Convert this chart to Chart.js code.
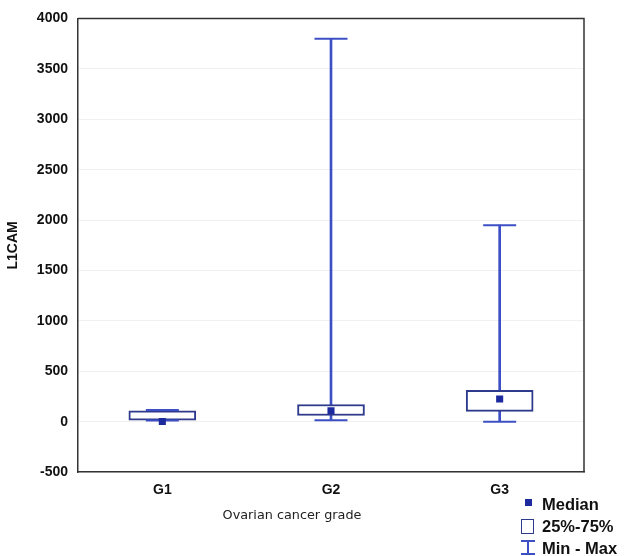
<!DOCTYPE html>
<html>
<head>
<meta charset="utf-8">
<script src="https://cdn.jsdelivr.net/npm/chart.js@4"></script>
<style>
  html, body { margin: 0; padding: 0; background: #fff; }
  #wrap { position: relative; width: 624px; height: 556px; }
  .lg { position: absolute; font: bold 16.5px "Liberation Sans", Arial, sans-serif; color: #111; line-height: 18px; white-space: nowrap; }
  .sw { position: absolute; }
</style>
</head>
<body>
<div id="wrap">
  <canvas id="chart1" width="624" height="556"></canvas>
  <!-- legend -->
  <div class="sw" style="left:525px;top:499px;width:7px;height:7px;background:#1c2a9e;"></div>
  <div class="lg" style="left:542px;top:495px;">Median</div>
  <div class="sw" style="left:521px;top:519px;width:11px;height:13px;border:1.5px solid #2e3a8c;"></div>
  <div class="lg" style="left:542px;top:517px;">25%-75%</div>
  <div class="sw" style="left:521px;top:540px;width:14px;height:1.5px;background:#3d4fc4;"></div>
  <div class="sw" style="left:527px;top:540px;width:1.5px;height:14px;background:#3d4fc4;"></div>
  <div class="sw" style="left:521px;top:553px;width:14px;height:1.5px;background:#3d4fc4;"></div>
  <div class="lg" style="left:542px;top:539px;">Min - Max</div>
</div>
<script>
var categories = ['G1', 'G2', 'G3'];
var minVals = [14, 15, 0];
var q1Vals = [16, 63, 103];
var medianVals = [4, 109, 227];
var q3Vals = [110, 172, 313];
var maxVals = [118, 3800, 1950];

var boxColor = '#2e3a8c';
var whiskerColor = '#3d4fc4';
var medianColor = '#1c2a9e';

var whiskerData = categories.map(function (c, i) { return [minVals[i], maxVals[i]]; });
var boxData = categories.map(function (c, i) { return [q1Vals[i], q3Vals[i]]; });

// top and right frame lines
var framePlugin = {
    id: 'frame',
    afterDatasetsDraw: function (chart) {
        var a = chart.chartArea, ctx = chart.ctx;
        ctx.save();
        ctx.strokeStyle = '#333';
        ctx.lineWidth = 1.5;
        ctx.beginPath();
        ctx.moveTo(a.left, a.top);
        ctx.lineTo(a.right, a.top);
        ctx.lineTo(a.right, a.bottom);
        ctx.stroke();
        ctx.restore();
    }
};

var dataChart1 = {
    labels: categories,
    datasets: [
        {
            type: 'bar',
            label: 'Min - Max',
            data: whiskerData,
            backgroundColor: whiskerColor,
            barThickness: 2,
            grouped: false,
            order: 3
        },
        {
            type: 'bar',
            label: '25%-75%',
            data: boxData,
            backgroundColor: '#ffffff',
            borderColor: boxColor,
            borderWidth: 2,
            borderSkipped: false,
            barThickness: 67,
            grouped: false,
            order: 2
        },
        {
            type: 'line',
            label: 'Max',
            data: maxVals,
            showLine: false,
            pointStyle: 'line',
            pointRadius: 16.5,
            pointBorderWidth: 2,
            pointBorderColor: whiskerColor,
            order: 1
        },
        {
            type: 'line',
            label: 'Min',
            data: minVals,
            showLine: false,
            pointStyle: 'line',
            pointRadius: 16.5,
            pointBorderWidth: 2,
            pointBorderColor: whiskerColor,
            order: 1
        },
        {
            type: 'line',
            label: 'Median',
            data: medianVals,
            showLine: false,
            pointStyle: 'rect',
            pointRadius: 5,
            pointBorderWidth: 0,
            pointBackgroundColor: medianColor,
            order: 0
        }
    ]
};

var configChart1 = {
    type: 'bar',
    data: dataChart1,
    options: {
        responsive: false,
        animation: false,
        layout: {
            padding: { top: 16, right: 40, left: 0, bottom: 0 }
        },
        scales: {
            x: {
                offset: true,
                grid: { display: false, drawTicks: false },
                border: { display: true, color: '#333', width: 1.5 },
                ticks: {
                    padding: 10,
                    color: '#111',
                    font: { family: '"Liberation Sans", Arial, sans-serif', size: 14, weight: 'bold' }
                },
                afterFit: function (scale) { scale.height = 35.4; }
            },
            y: {
                min: -500,
                max: 4000,
                ticks: {
                    stepSize: 500,
                    padding: 10,
                    color: '#111',
                    font: { family: '"Liberation Sans", Arial, sans-serif', size: 14, weight: 'bold' },
                    // plain numbers, no thousands separator
                    callback: function (value) {
                        return String(value);
                    }
                },
                grid: { color: '#f0f0f0', drawTicks: false },
                border: { display: true, color: '#333', width: 1.5 },
                title: {
                    display: true,
                    text: 'L1CAM',
                    color: '#111',
                    padding: { top: 5, bottom: 0 },
                    font: { family: '"Liberation Sans", Arial, sans-serif', size: 14, weight: 'bold' }
                },
                afterFit: function (scale) { scale.width = 78; }
            }
        },
        plugins: {
            legend: { display: false },
            tooltip: { enabled: false },
            title: {
                display: true,
                position: 'bottom',
                text: 'Ovarian cancer grade',
                color: '#222',
                padding: { top: 0, bottom: 33 },
                font: { family: '"DejaVu Sans", Tahoma, sans-serif', size: 12.8, weight: 'normal' }
            }
        }
    },
    plugins: [framePlugin]
};

var chart1 = new Chart(
    document.getElementById('chart1'),
    configChart1
);
</script>
</body>
</html>
